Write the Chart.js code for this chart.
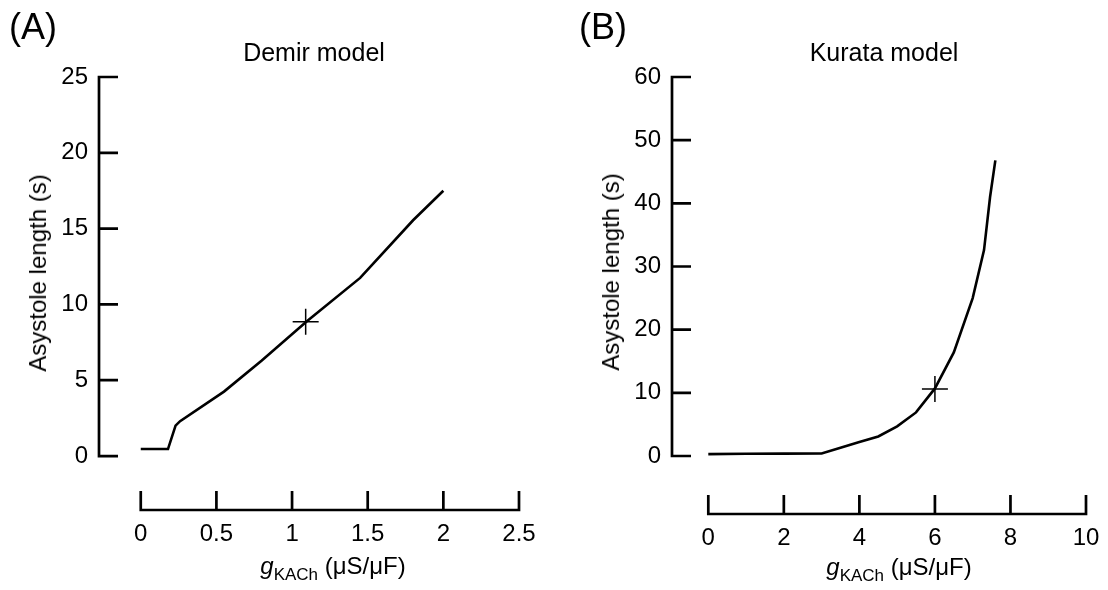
<!DOCTYPE html>
<html>
<head>
<meta charset="utf-8">
<script src="https://cdn.jsdelivr.net/npm/chart.js@4.4.1/dist/chart.umd.min.js"></script>
<style>
  html, body { margin: 0; padding: 0; background: #fff; }
  #wrap { position: relative; width: 1108px; height: 590px; overflow: hidden; background: #fff;
          font-family: "Liberation Sans", Arial, sans-serif; color: #000; }
  canvas { position: absolute; top: 0; }
  #demir { left: 0; }
  #kurata { left: 554px; }
  .txt { position: absolute; transform: translate(-50%, -50%); white-space: nowrap; line-height: 1; font-size: 24px; }
  .panel { font-size: 36px; }
  .head { font-size: 25px; }
  .ytitle { transform: translate(-50%, -50%) rotate(-90deg); }
  .sub { font-size: 17px; position: relative; top: 6px; }
</style>
</head>
<body>
<div id="wrap">
  <canvas id="demir" width="554" height="590"></canvas>
  <canvas id="kurata" width="600" height="590"></canvas>

  <div class="txt panel" style="left:33px; top:27px;">(A)</div>
  <div class="txt head" style="left:314px; top:52px;">Demir model</div>
  <div class="txt ytitle" style="left:38px; top:273px;">Asystole length (s)</div>
  <div class="txt" style="left:333px; top:566px;"><i>g</i><span class="sub">KACh</span> (μS/μF)</div>

  <div class="txt panel" style="left:603px; top:27px;">(B)</div>
  <div class="txt head" style="left:884px; top:52px;">Kurata model</div>
  <div class="txt ytitle" style="left:611px; top:272px;">Asystole length (s)</div>
  <div class="txt" style="left:899px; top:567px;"><i>g</i><span class="sub">KACh</span> (μS/μF)</div>
</div>

<script>
const demirG = [0, 0.18, 0.23, 0.26, 0.55, 0.8, 1.1, 1.45, 1.8, 2.0]
const demirAsystole = [0.46, 0.46, 2.0, 2.3, 4.25, 6.3, 8.9, 11.75, 15.55, 17.5]
const demirMark = { x: 1.09, y: 8.86 }
const demirXTicks = [0, 0.5, 1, 1.5, 2, 2.5]
const demirYTicks = [0, 5, 10, 15, 20, 25]

const kurataG = [0, 1, 2, 3, 3.5, 4, 4.5, 5, 5.5, 6, 6.5, 7, 7.3, 7.46, 7.6]
const kurataAsystole = [0.3, 0.35, 0.38, 0.4, 1.3, 2.2, 3.1, 4.7, 6.9, 10.7, 16.4, 25.0, 32.6, 41.0, 46.8]
const kurataMark = { x: 6.0, y: 10.6 }
const kurataXTicks = [0, 2, 4, 6, 8, 10]
const kurataYTicks = [0, 10, 20, 30, 40, 50, 60]

const tickFont = { family: '"Liberation Sans", Arial, sans-serif', size: 24 }

// axes drawn as brackets with inward ticks, x axis detached below the data
const bracketAxes = {
    id: 'bracketAxes',
    afterDatasetsDraw(chart) {
        const { ctx, chartArea, scales: { x, y } } = chart
        const len = 19
        const x0 = chartArea.left
        const y0 = chartArea.bottom
        const yPix = y.ticks.map(t => y.getPixelForValue(t.value))
        const xPix = x.ticks.map(t => x.getPixelForValue(t.value))

        ctx.save()
        ctx.strokeStyle = '#000'
        ctx.lineWidth = 2.7
        ctx.lineJoin = 'miter'

        ctx.beginPath()
        ctx.moveTo(x0 + len, yPix[yPix.length - 1])
        ctx.lineTo(x0, yPix[yPix.length - 1])
        ctx.lineTo(x0, yPix[0])
        ctx.lineTo(x0 + len, yPix[0])
        yPix.slice(1, -1).forEach(p => {
            ctx.moveTo(x0, p)
            ctx.lineTo(x0 + len, p)
        })
        ctx.stroke()

        ctx.beginPath()
        ctx.moveTo(xPix[0], y0 - len)
        ctx.lineTo(xPix[0], y0)
        ctx.lineTo(xPix[xPix.length - 1], y0)
        ctx.lineTo(xPix[xPix.length - 1], y0 - len)
        xPix.slice(1, -1).forEach(p => {
            ctx.moveTo(p, y0)
            ctx.lineTo(p, y0 - len)
        })
        ctx.stroke()
        ctx.restore()
    }
}

function makeChart(canvas, g, vals, mark, xTicks, yTicks, lim) {
    return new Chart(canvas, {
        type: 'line',
        data: {
            datasets: [{
                data: g.map((v, i) => ({ x: v, y: vals[i] })),
                borderColor: '#000',
                borderWidth: 2.6,
                pointRadius: 0,
                tension: 0,
                fill: false
            }, {
                data: [mark],
                showLine: false,
                pointStyle: 'cross',
                pointRadius: 13,
                pointBorderWidth: 1.5,
                borderColor: '#000',
                pointBorderColor: '#000'
            }]
        },
        options: {
            responsive: false,
            animation: false,
            events: [],
            layout: { padding: { left: 0, top: lim.top, right: lim.right, bottom: 0 } },
            plugins: {
                legend: { display: false },
                tooltip: { enabled: false },
                title: { display: false }
            },
            scales: {
                x: {
                    type: 'linear',
                    min: lim.xMin,
                    max: xTicks[xTicks.length - 1],
                    grid: { display: false, drawTicks: false },
                    border: { display: false },
                    afterBuildTicks: s => { s.ticks = xTicks.map(v => ({ value: v })) },
                    afterFit: s => { s.height = lim.xHeight },
                    ticks: {
                        autoSkip: false,
                        maxRotation: 0,
                        padding: 10,
                        color: '#000',
                        font: tickFont,
                        callback: v => String(v)
                    }
                },
                y: {
                    type: 'linear',
                    min: lim.yMin,
                    max: yTicks[yTicks.length - 1],
                    grid: { display: false, drawTicks: false },
                    border: { display: false },
                    afterBuildTicks: s => { s.ticks = yTicks.map(v => ({ value: v })) },
                    afterFit: s => { s.width = lim.yWidth },
                    ticks: {
                        padding: 11,
                        color: '#000',
                        font: tickFont,
                        callback: v => String(v)
                    }
                }
            }
        },
        plugins: [bracketAxes]
    })
}

makeChart(document.getElementById('demir'), demirG, demirAsystole, demirMark, demirXTicks, demirYTicks,
    { top: 77, right: 35, xHeight: 80, yWidth: 99, xMin: -0.276, yMin: -3.56 })

makeChart(document.getElementById('kurata'), kurataG, kurataAsystole, kurataMark, kurataXTicks, kurataYTicks,
    { top: 77, right: 68, xHeight: 76, yWidth: 118, xMin: -0.961, yMin: -9.18 })
</script>
</body>
</html>
